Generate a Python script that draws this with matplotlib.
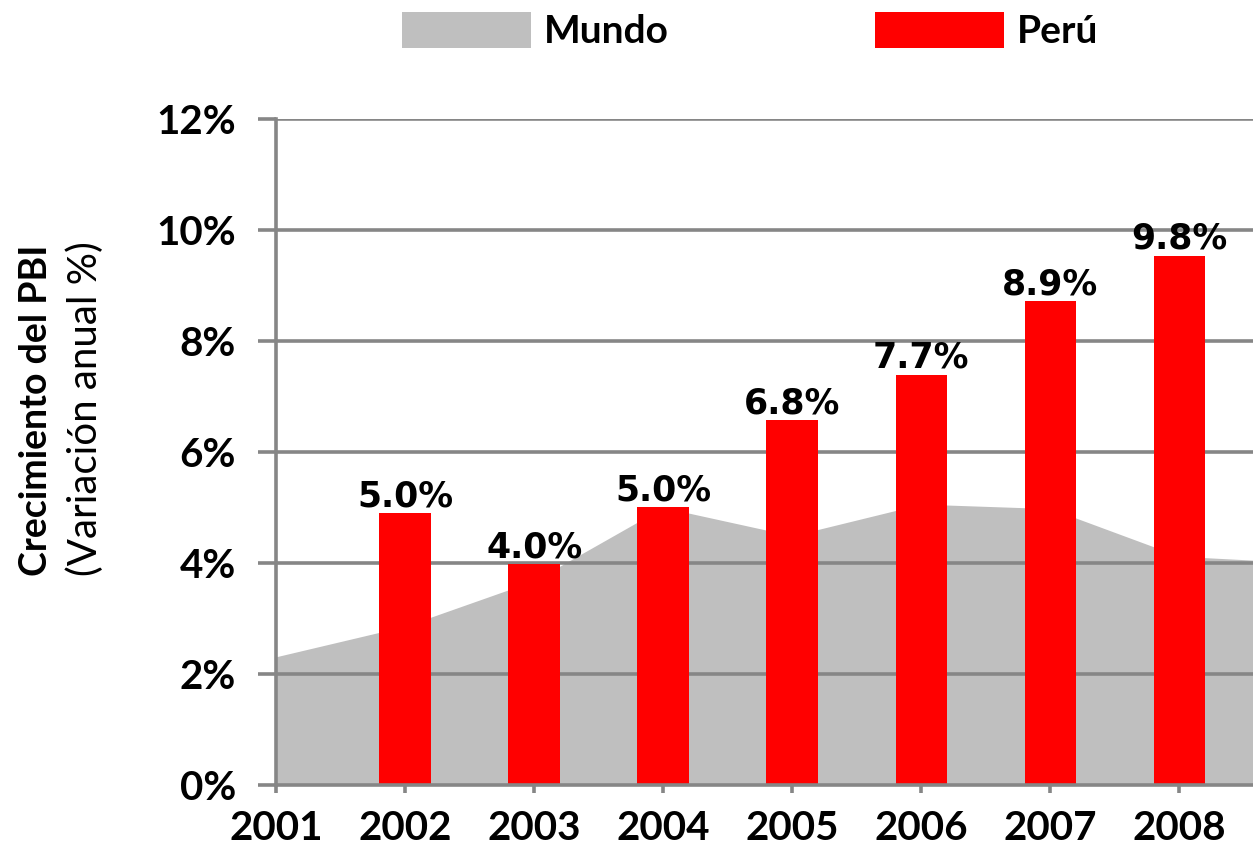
import matplotlib.pyplot as plt
from matplotlib.patches import Patch

# Data
years = [2001, 2002, 2003, 2004, 2005, 2006, 2007, 2008, 2009]
mundo = [2.31, 2.86, 3.68, 5.0, 4.49, 5.06, 4.98, 4.12, 4.0]

peru_years = [2002, 2003, 2004, 2005, 2006, 2007, 2008]
peru = [4.90, 3.98, 5.00, 6.57, 7.39, 8.72, 9.54]
peru_labels = ['5.0%', '4.0%', '5.0%', '6.8%', '7.7%', '8.9%', '9.8%']

y_ticks = [0, 2, 4, 6, 8, 10, 12]
x_ticks = [2001, 2002, 2003, 2004, 2005, 2006, 2007, 2008]

GRAY = '#BFBFBF'
RED = '#FF0000'
LINE = '#868686'
FONT = 'Lato'

fig = plt.figure(figsize=(12.53, 8.48), dpi=100)
ax = fig.add_axes([0.2203, 0.0743, 0.7797, 0.7854])

# world growth as a filled area
ax.fill_between(years, mundo, 0, color=GRAY, linewidth=0, zorder=1)

# horizontal gridlines over the area, under the bars
for t in y_ticks[1:]:
    ax.axhline(t, color=LINE, linewidth=2.6, zorder=2)

bars = ax.bar(peru_years, peru, width=0.40, color=RED, zorder=3)

for x, v, lab in zip(peru_years, peru, peru_labels):
    ax.annotate(lab, (x, v), xytext=(0, 5), textcoords='offset points',
                ha='center', va='baseline', fontsize=25, fontweight='bold',
                family='DejaVu Sans', color='black', zorder=4)

ax.set_xlim(2001, 2008.57)
ax.set_ylim(0, 12)

ax.set_yticks(y_ticks)
ax.set_yticklabels([f'{t}%' for t in y_ticks], fontsize=29, fontweight='bold', family=FONT)
ax.set_xticks(x_ticks)
ax.set_xticklabels([str(t) for t in x_ticks], fontsize=29, fontweight='bold', family=FONT)

for side in ['top', 'right']:
    ax.spines[side].set_visible(False)
for side in ['left', 'bottom']:
    ax.spines[side].set_color(LINE)
    ax.spines[side].set_linewidth(2.6)
    ax.spines[side].set_zorder(5)

ax.tick_params(axis='y', direction='out', length=13, width=2.6, color=LINE, pad=16)
ax.tick_params(axis='x', direction='out', length=6, width=2.6, color=LINE, pad=12)

# two-line y label: bold first line, regular second line
fig.text(0.029, 0.516, 'Crecimiento del PBI', rotation=90, ha='center', va='center',
         fontsize=27, fontweight='bold', family=FONT)
fig.text(0.068, 0.518, '(Variación anual %)', rotation=90, ha='center', va='center',
         fontsize=29, family=FONT)

handles = [Patch(facecolor=GRAY, edgecolor='none', label='Mundo'),
           Patch(facecolor=RED, edgecolor='none', label='Perú')]
fig.legend(handles=handles, loc='upper center', bbox_to_anchor=(0.599, 1.009), ncol=2,
           frameon=False, borderpad=0, handlelength=3.3, handleheight=1.05,
           handletextpad=0.35, columnspacing=5.3,
           prop={'family': FONT, 'weight': 'bold', 'size': 28})

plt.savefig('out.png', dpi=100)
plt.close()
